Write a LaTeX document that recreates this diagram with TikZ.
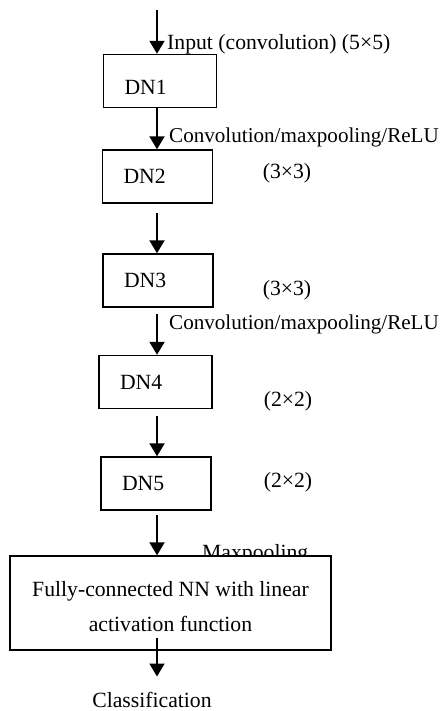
\documentclass[tikz,border=0pt]{standalone}
\usepackage{fontspec}
\setmainfont{Liberation Serif}
\usetikzlibrary{arrows.meta}

\begin{document}
\begin{tikzpicture}[x=1pt,y=-1pt,font=\fontsize{21.7}{26}\selectfont,
		arr/.style={-{Triangle[length=13pt,width=15pt]},line width=2pt},
		dnbox/.style={draw,line width=1.4pt,minimum height=53pt,inner xsep=21pt,text width=68pt,align=left},
		lbl/.style={inner sep=0pt,anchor=base west}]
		\useasboundingbox (0,0) rectangle (441,711);
		\coordinate (in) at (157,10);
		\node[dnbox,text width=71pt,text height=28pt] (DN1) at (160,81) {DN1};
		\node[dnbox] (DN2) at (157.5,176.5) {DN2};
		\node[dnbox] (DN3) at (158,280.5) {DN3};
		\node[dnbox,text width=71pt] (DN4) at (155.5,382) {DN4};
		\node[dnbox] (DN5) at (156,483.5) {DN5};
		\node[lbl] (linput) at (167,50) {Input (convolution) (5×5)};
		\node[lbl,font=\fontsize{21.1}{26}\selectfont] (lconva) at (169,143) {Convolution/maxpooling/ReLU};
		\node[lbl,anchor=base] (lthreea) at (287,178.5) {(3×3)};
		\node[lbl,anchor=base] (lthreeb) at (287,295.5) {(3×3)};
		\node[lbl,font=\fontsize{21.1}{26}\selectfont] (lconvb) at (169,329) {Convolution/maxpooling/ReLU};
		\node[lbl,anchor=base] (ltwoa) at (288,406.5) {(2×2)};
		\node[lbl,anchor=base] (ltwob) at (288,487.5) {(2×2)};
		\node[lbl] (lmax) at (202,559.5) {Maxpooling};
		\node[draw,fill=white,line width=1.4pt,minimum width=321pt,minimum height=94pt,align=center,
			text height=58pt,font=\fontsize{21.7}{35}\selectfont] (FC) at (170.5,603)
			{Fully-connected NN with linear\\activation function};
		\node[lbl,anchor=base] (cls) at (152,707) {Classification};
		\draw[arr] (in) -- (DN1.north -| in);
		\draw[arr] (DN1.south -| in) -- (DN2.north -| in);
		\draw[arr,shorten <=9pt] (DN2.south -| in) -- (DN3.north -| in);
		\draw[arr,shorten <=6pt] (DN3.south -| in) -- (DN4.north -| in);
		\draw[arr,shorten <=7pt] (DN4.south -| in) -- (DN5.north -| in);
		\draw[arr,shorten <=4pt] (DN5.south -| in) -- (FC.north -| in);
		\draw[arr,shorten <=-13pt,shorten >=15pt] (FC.south -| in) -- (cls.north -| in);
	\end{tikzpicture}
\end{document}
